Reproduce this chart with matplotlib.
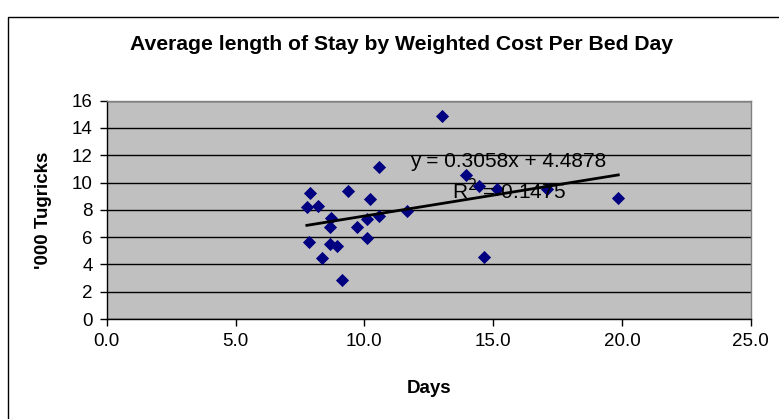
import matplotlib
matplotlib.use("Agg")
import matplotlib.pyplot as plt
from matplotlib.patches import Rectangle
import numpy as np

plt.rcParams['font.family'] = ['Liberation Sans', 'DejaVu Sans']

# Data
days = [7.90, 7.77, 8.19, 8.72, 8.65, 7.84, 8.65, 8.94, 8.37, 9.13,
        9.35, 9.72, 10.10, 10.10, 10.23, 10.56, 10.57, 11.66, 13.02,
        13.96, 14.47, 15.16, 17.10, 19.86, 14.66]
cost = [9.25, 8.18, 8.30, 7.38, 6.76, 5.66, 5.47, 5.35, 4.49, 2.83,
        9.40, 6.76, 7.33, 5.96, 8.77, 11.16, 7.55, 7.90, 14.90,
        10.55, 9.74, 9.52, 9.52, 8.86, 4.52]
slope = 0.3058
intercept = 4.4878
r2_text = "0.1475"
x_ticks = [0, 5, 10, 15, 20, 25]
y_ticks = [0, 2, 4, 6, 8, 10, 12, 14, 16]

W, H = 779, 419
fig = plt.figure(figsize=(W / 100, H / 100), dpi=100)

# outer chart border
fig.patches.append(Rectangle((8 / W, -0.05), 1.2, (1 - 17 / H) + 0.05,
                             transform=fig.transFigure, fill=False,
                             edgecolor='black', linewidth=1.0))

ax = fig.add_axes([106.7 / W, 1 - 319 / H, (750.7 - 106.7) / W, (319 - 100.7) / H])
ax.set_facecolor('#C0C0C0')
ax.set_xlim(0, 25)
ax.set_ylim(0, 16)
ax.set_xticks(x_ticks)
ax.set_xticklabels([f"{t:.1f}" for t in x_ticks], fontsize=13.5)
ax.set_yticks(y_ticks)
ax.set_yticklabels([str(t) for t in y_ticks], fontsize=13.5)
ax.tick_params(axis='both', direction='out', length=5, width=1, color='black', pad=5)
ax.yaxis.grid(True, color='black', linewidth=1.0)
ax.set_axisbelow(True)
for s in ['left', 'bottom']:
    ax.spines[s].set_color('black')
    ax.spines[s].set_linewidth(1.0)
for s in ['top', 'right']:
    ax.spines[s].set_color('#808080')
    ax.spines[s].set_linewidth(1.0)

ax.scatter(days, cost, marker='D', s=45, color='#000080', zorder=3, linewidths=0)

xs = np.array([min(days), max(days)])
ax.plot(xs, slope * xs + intercept, color='black', linewidth=2.0, zorder=4)

ax.text(15.6, 11.55, f"y = {slope}x + {intercept}", fontsize=15,
        ha='center', va='center', zorder=5)
ax.text(15.6, 9.4, f"R$^2$ = {r2_text}", fontsize=15,
        ha='center', va='center', zorder=5)

fig.text(429 / W, 1 - 388 / H, "Days", fontsize=13.5, fontweight='bold',
         ha='center', va='center')
fig.text(43.5 / W, 1 - 210 / H, "'000 Tugricks", fontsize=13.5, fontweight='bold',
         ha='center', va='center', rotation=90)

fig.text(0.5 * (124 + 679) / W, 1 - 45 / H,
         "Average length of Stay by Weighted Cost Per Bed Day",
         fontsize=15.2, fontweight='bold', ha='center', va='center')

fig.savefig("out.png", dpi=100)
